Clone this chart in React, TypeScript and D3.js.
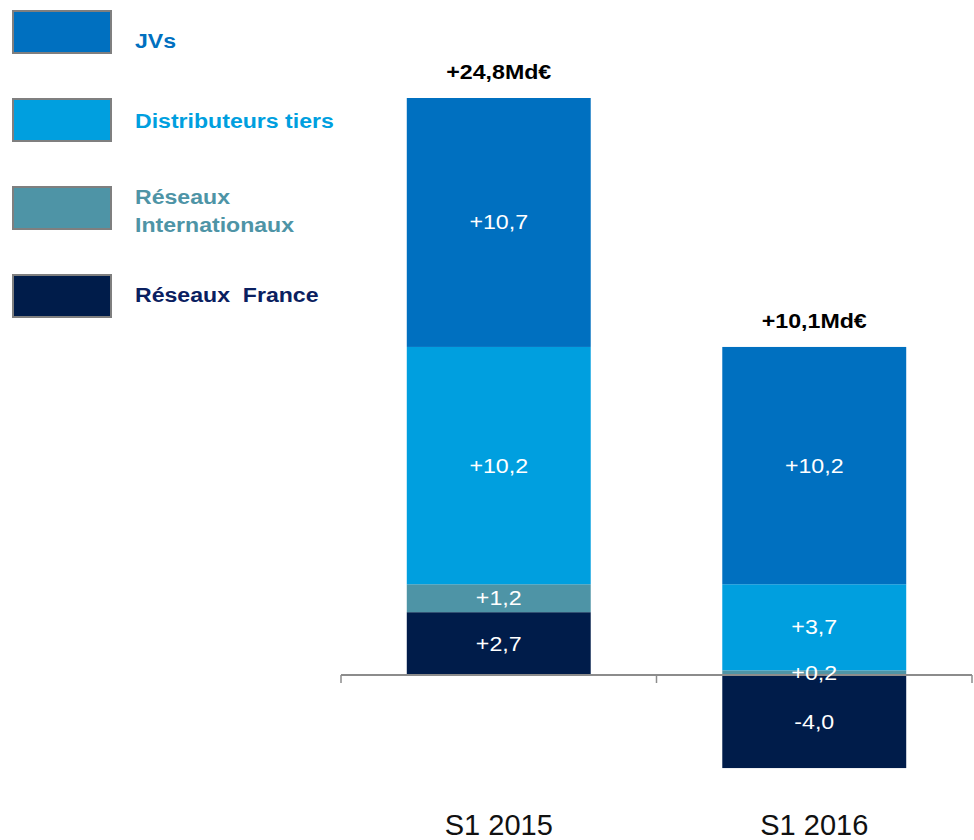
import React from "react";
import * as d3 from "d3";

const categories = ["S1 2015", "S1 2016"];
const seriesNames = ["Réseaux  France", "Réseaux Internationaux", "Distributeurs tiers", "JVs"];
const reseauxFrance = [2.7, -4.0];
const reseauxInternationaux = [1.2, 0.2];
const distributeursTiers = [10.2, 3.7];
const jvs = [10.7, 10.2];
const totalLabels = ["+24,8Md€", "+10,1Md€"];
const valueLabels = [
  ["+2,7", "-4,0"],
  ["+1,2", "+0,2"],
  ["+10,2", "+3,7"],
  ["+10,7", "+10,2"],
];

const colors = ["#001C4A", "#4E94A6", "#009FDF", "#0070C0"];
const textColors = ["#0A2060", "#4E94A6", "#009FDF", "#0070C0"];

const W = 974;
const H = 840;
const FONT = "'Liberation Sans', Arial, sans-serif";

export default function App() {
  const series = [reseauxFrance, reseauxInternationaux, distributeursTiers, jvs];
  const x = d3
    .scaleBand<string>()
    .domain(categories)
    .range([341, 972])
    .paddingInner(0.417)
    .paddingOuter(0.2085);
  const y = d3.scaleLinear().domain([0, 24.8]).range([675, 98]);

  type Seg = { s: number; c: number; y0: number; y1: number; v: number };
  const segs: Seg[] = [];
  const posTops: number[] = [];
  categories.forEach((_, ci) => {
    let pos = 0;
    let neg = 0;
    series.forEach((arr, si) => {
      const v = arr[ci];
      if (v >= 0) {
        segs.push({ s: si, c: ci, y0: pos, y1: pos + v, v });
        pos += v;
      } else {
        segs.push({ s: si, c: ci, y0: neg + v, y1: neg, v });
        neg += v;
      }
    });
    posTops.push(pos);
  });

  const bw = x.bandwidth();
  const sx = 1.16;

  const legendItems = [
    { s: 3, lines: ["JVs"], top: 11, base: [48] },
    { s: 2, lines: ["Distributeurs tiers"], top: 99, base: [128] },
    { s: 1, lines: ["Réseaux", "Internationaux"], top: 187, base: [204, 232] },
    { s: 0, lines: ["Réseaux  France"], top: 275, base: [302] },
  ];

  const axisY = y(0);

  return (
    <svg width={W} height={H} style={{ position: "absolute", left: 0, top: 0 }} fontFamily={FONT}>
      <rect width={W} height={H} fill="#fff" />
      {legendItems.map((it) => (
        <g key={it.s}>
          <rect x={13} y={it.top} width={98} height={42} fill={colors[it.s]} stroke="#7F7F7F" strokeWidth={2} />
          {it.lines.map((ln, li) => (
            <text
              key={li}
              transform={`translate(135,${it.base[li]}) scale(1.1,1)`}
              fontSize={21}
              fontWeight="bold"
              fill={textColors[it.s]}
              style={{ whiteSpace: "pre" }}
            >
              {ln}
            </text>
          ))}
        </g>
      ))}

      {segs.map((d, i) => (
        <rect
          key={i}
          x={x(categories[d.c])!}
          y={y(d.y1)}
          width={bw}
          height={Math.max(0, y(d.y0) - y(d.y1))}
          fill={colors[d.s]}
        />
      ))}

      <line x1={341} x2={972} y1={axisY} y2={axisY} stroke="#8C8C8C" strokeWidth={2} />
      {[341, 656.5, 972].map((tx, i) => (
        <line key={i} x1={tx} x2={tx} y1={axisY} y2={axisY + 8} stroke="#8C8C8C" strokeWidth={1.5} />
      ))}

      {segs.map((d, i) => {
        const cx = x(categories[d.c])! + bw / 2;
        const cy = (y(d.y0) + y(d.y1)) / 2;
        return (
          <text
            key={i}
            transform={`translate(${cx},${cy + 7}) scale(${sx},1)`}
            textAnchor="middle"
            fontSize={20}
            fill="#fff"
          >
            {valueLabels[d.s][d.c]}
          </text>
        );
      })}

      {categories.map((c, ci) => (
        <text
          key={c}
          transform={`translate(${x(c)! + bw / 2},${y(posTops[ci]) - 19}) scale(${sx},1)`}
          textAnchor="middle"
          fontSize={20}
          fontWeight="bold"
          fill="#000"
        >
          {totalLabels[ci]}
        </text>
      ))}

      {categories.map((c) => (
        <text
          key={c}
          x={x(c)! + bw / 2}
          y={835}
          textAnchor="middle"
          fontSize={29}
          fill="#111"
        >
          {c}
        </text>
      ))}
    </svg>
  );
}
